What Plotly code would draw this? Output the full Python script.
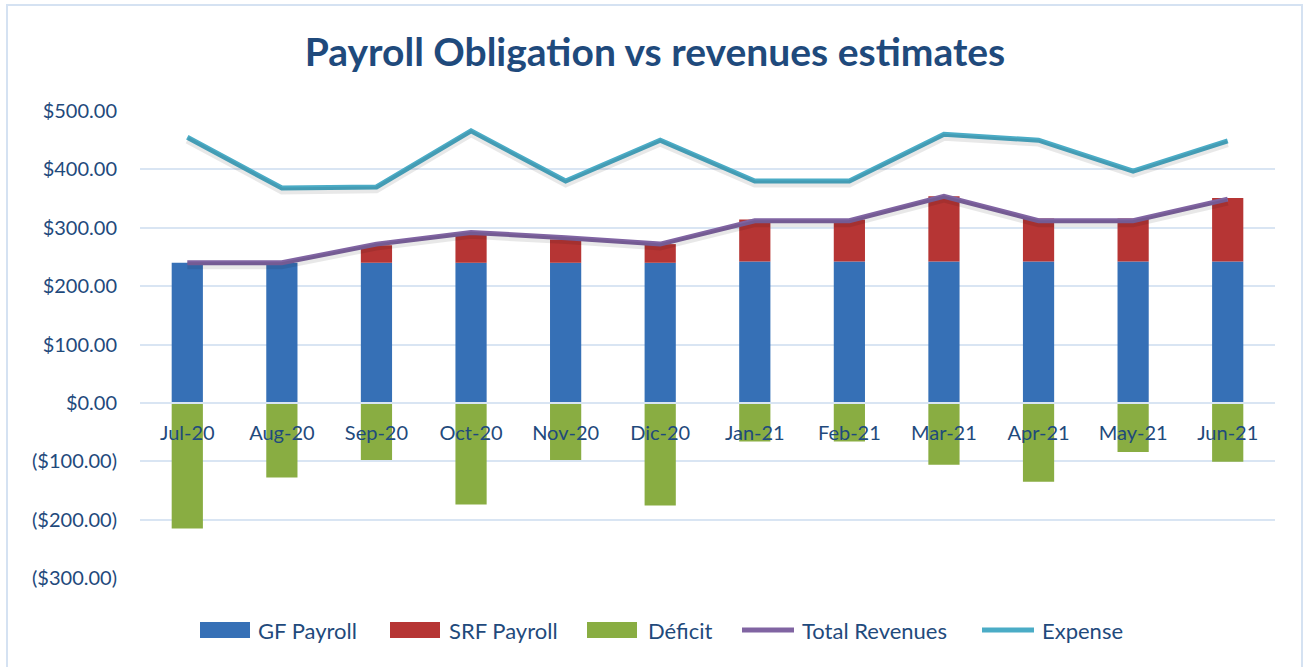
import plotly.graph_objects as go

months = ["Jul-20", "Aug-20", "Sep-20", "Oct-20", "Nov-20", "Dic-20",
          "Jan-21", "Feb-21", "Mar-21", "Apr-21", "May-21", "Jun-21"]
gf_payroll = [240, 240, 240, 240, 240, 240, 242, 242, 242, 242, 242, 242]
srf_payroll = [0, 0, 30, 50, 40, 32, 72, 72, 112, 74, 74, 109]
deficit = [-215, -128, -98, -174, -98, -176, -66, -66, -106, -135, -84, -101]
total_revenues = [240, 240, 272, 292, 283, 272, 312, 312, 354, 312, 312, 349]
expense = [455, 368, 370, 466, 380, 450, 380, 380, 460, 450, 397, 449]
ytick_vals = [500, 400, 300, 200, 100, 0, -100, -200, -300]
ytick_text = ["$500.00", "$400.00", "$300.00", "$200.00", "$100.00", "$0.00",
              "($100.00)", "($200.00)", "($300.00)"]
series_names = ["GF Payroll", "SRF Payroll", "Déficit", "Total Revenues", "Expense"]
series_colors = ["#3670B6", "#B63534", "#89AD42", "#8064A2", "#4BACC6"]
series_kind = ["bar", "bar", "bar", "line", "line"]

TXT = "#1F4A7C"
FONT = "Lato"
W, H = 1305, 667
L, T, PW, PH = 140, 111, 1135, 467
Y_MIN, Y_MAX = -300, 500
SHADOW_SHIFT = 5  # value units, shadow drawn slightly lower


def px_x(X):  # pixel -> paper x
    return (X - L) / PW


def px_y(Y):  # pixel -> paper y
    return (T + PH - Y) / PH


fig = go.Figure()
bar_vals = [gf_payroll, srf_payroll, deficit]
for i in range(3):
    fig.add_trace(go.Bar(x=months, y=bar_vals[i], name=series_names[i],
                         marker=dict(color=series_colors[i], line=dict(width=0)),
                         showlegend=False))
line_vals = [total_revenues, expense]
for j in range(2):
    i = 3 + j
    # soft shadow (same data on a shifted overlay axis)
    fig.add_trace(go.Scatter(x=months, y=line_vals[j], yaxis="y2",
                             mode="lines", showlegend=False, hoverinfo="skip",
                             line=dict(color="rgba(0,0,0,0.09)", width=7)))
    fig.add_trace(go.Scatter(x=months, y=line_vals[j], name=series_names[i],
                             mode="lines", showlegend=False,
                             line=dict(color=series_colors[i], width=5)))

shapes = [dict(type="rect", xref="paper", yref="paper",
               x0=px_x(7), x1=px_x(1302), y0=px_y(672), y1=px_y(5),
               line=dict(color="#D5E2F2", width=2), layer="below"),
          dict(type="line", xref="paper", yref="y", x0=0, x1=1, y0=0, y1=0,
               line=dict(color="#D9E5F3", width=2), layer="above")]
annotations = []
swatch_x = [200, 390, 587, 742, 982]
text_x = [256, 447, 646, 800, 1040]
ly = 630
for i in range(5):
    if series_kind[i] == "bar":
        shapes.append(dict(type="rect", xref="paper", yref="paper",
                           x0=px_x(swatch_x[i]), x1=px_x(swatch_x[i] + 50),
                           y0=px_y(ly + 8), y1=px_y(ly - 8),
                           fillcolor=series_colors[i], line=dict(width=0)))
    else:
        shapes.append(dict(type="line", xref="paper", yref="paper",
                           x0=px_x(swatch_x[i]), x1=px_x(swatch_x[i] + 52),
                           y0=px_y(ly), y1=px_y(ly),
                           line=dict(color=series_colors[i], width=5)))
    annotations.append(dict(text=series_names[i], xref="paper", yref="paper",
                            x=px_x(text_x[i]), y=px_y(ly), xanchor="left",
                            yanchor="middle", showarrow=False,
                            font=dict(family=FONT, size=22, color=TXT)))

fig.update_layout(
    width=W, height=H,
    barmode="relative", bargap=0.67,
    paper_bgcolor="white", plot_bgcolor="white",
    margin=dict(l=L, r=W - L - PW, t=T, b=H - T - PH, autoexpand=False),
    font=dict(family=FONT, color=TXT, size=20),
    showlegend=False,
    title=dict(text="<b>Payroll Obligation vs revenues estimates</b>",
               x=655 / W, xanchor="center", y=1 - 52 / H,
               yanchor="middle",
               font=dict(family=FONT, size=39, color="#1F4A7C")),
    xaxis=dict(type="category", anchor="free", position=-Y_MIN / (Y_MAX - Y_MIN),
               showgrid=False, showline=False, zeroline=False, ticks="",
               ticklabelstandoff=16,
               tickfont=dict(family=FONT, size=20, color=TXT)),
    yaxis=dict(range=[Y_MIN, Y_MAX], tickvals=ytick_vals, ticktext=ytick_text,
               showgrid=True, gridcolor="#D9E5F3", gridwidth=2,
               zeroline=False, showline=False, ticks="",
               ticklabelstandoff=22,
               tickfont=dict(family=FONT, size=20, color=TXT)),
    yaxis2=dict(overlaying="y", range=[Y_MIN + SHADOW_SHIFT, Y_MAX + SHADOW_SHIFT],
                visible=False, showgrid=False, zeroline=False),
    shapes=shapes,
    annotations=annotations,
)

fig.write_html("out.html", config={"displayModeBar": False},
               post_script="document.body.style.margin='0';")
